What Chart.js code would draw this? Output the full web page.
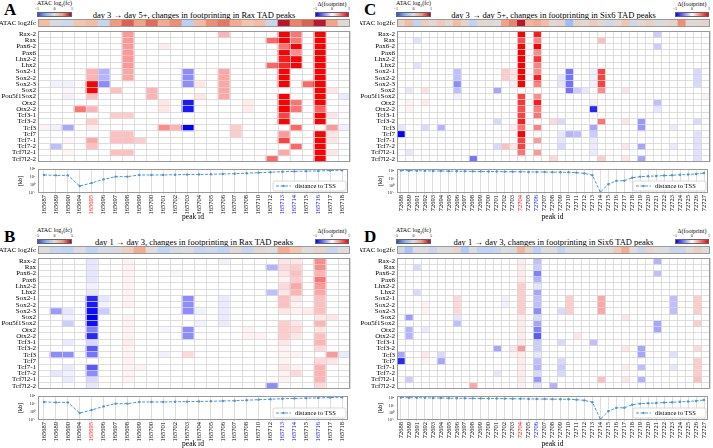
<!DOCTYPE html>
<html>
<head>
<meta charset="utf-8">
<script src="https://cdn.jsdelivr.net/npm/chart.js@4"></script>
<style>
  body { margin: 0; background: #fff; width: 713px; height: 448px; overflow: hidden; position: relative; font-family: 'Liberation Serif', serif; }
  canvas { position: absolute; }
  .txt { position: absolute; white-space: nowrap; line-height: 1; color: #000; }
  .cbar { position: absolute; border: 0.5px solid #666; box-sizing: border-box; }
</style>
</head>
<body>
<script>
//// Data

// rows of every heatmap (motifs)
const rowNames = ['Rax-2', 'Rax', 'Pax6-2', 'Pax6', 'Lhx2-2', 'Lhx2', 'Sox2-1', 'Sox2-2', 'Sox2-3', 'Sox2',
    'Pou5f1Sox2', 'Otx2', 'Otx2-2', 'Tcf3-1', 'Tcf3-2', 'Tcf3', 'Tcf7', 'Tcf7-1', 'Tcf7-2', 'Tcf7l2-1', 'Tcf7l2-2'];

// peak ids
const raxPeaks = ['165687', '165689', '165690', '165694', '165695', '165696', '165697', '165698', '165699', '165700',
    '165701', '165702', '165703', '165704', '165705', '165706', '165707', '165708', '165710', '165712',
    '165713', '165714', '165715', '165716', '165717', '165718'];
const six6Peaks = ['72688', '72689', '72691', '72692', '72693', '72694', '72695', '72696', '72697', '72698',
    '72699', '72700', '72701', '72702', '72703', '72704', '72705', '72706', '72707', '72708',
    '72709', '72710', '72711', '72712', '72713', '72714', '72715', '72716', '72717', '72718',
    '72719', '72720', '72721', '72722', '72723', '72724', '72725', '72726', '72727'];
const raxRed = ['165695'];
const raxBlue = ['165713', '165714', '165716'];
const six6Red = ['72704'];
const six6Blue = ['72706'];

// distance to TSS [kb]
const raxDistance = [18, 16, 16, 0.74, 1.8, 5, 11, 11, 18, 18, 18, 19, 20, 21, 22, 24, 26, 30, 35, 40, 46, 50, 54, 58, 63, 71];
const six6Distance = [120, 117, 115, 112, 107, 105, 102, 100, 98, 95, 93, 91, 89, 87, 85, 83, 79, 78, 76, 74,
    72, 71, 63, 50, 28, 0.13, 1.6, 4.7, 4.8, 12.6, 18, 20, 22, 25, 28, 32, 35, 42, 56];

// ATAC log2fc strips (scaled to the colour bar)
const atacA = [0.3, -0.05, -0.1, 0.25, 0.3, -0.15, 0.5, 0.75, 0.45, 0.7, 0.4, 0.55, -0.25, 0.3, 0.55, 0.65, 0.4, 0.25, 0.3, -0.15, 0.95, 0.6, 0.75, 0.95, 0.45, 0.05];
const atacB = [0, -0.15, -0.2, 0, -0.2, -0.05, -0.05, 0.15, 0.4, 0, -0.2, -0.05, 0, -0.15, -0.1, -0.2, 0.05, -0.15, 0.05, 0, 0.4, 0.25, 0, 0.1, -0.15, 0];
const atacC = [0.1, 0.3, -0.2, 0.15, 0.05, 0.2, 0.05, 0.3, 0.1, -0.2, 0.05, 0.05, 0, 0.45, 0.6, 0.95, 0.35, 0.4, 0.3, 0.05,
    0.1, -0.4, 0.1, 0.05, 0.2, 0.05, -0.1, 0.05, 0.25, -0.1, 0.05, 0.15, -0.05, 0.05, 0.1, 0.55, 0.05, 0.05, 0.1];
const atacD = [-0.1, -0.35, 0, 0, -0.15, 0, 0, 0.1, -0.3, 0, -0.2, -0.2, -0.15, 0, -0.05, 0.35, 0.1, -0.25, 0, 0,
    -0.2, 0, 0, 0, 0, 0, 0, 0.2, 0.4, 0, -0.15, 0.1, 0, 0, -0.15, -0.15, 0, 0.15, 0];
const atacTicksLate = ['\u22121', '0', '1'];
const atacTicksEarly = ['\u22125', '0', '5'];
const footTicks = ['\u22121', '0', '1'];

// Δ(footprint) cells that are not zero: [row, column, value]
const cellsA = [
    [0,7,0.4],[0,15,0.3],[0,20,1],[0,21,0.55],[0,23,1],
    [1,7,0.4],[1,19,0.6],[1,20,1],[1,21,0.55],[1,23,1],
    [2,7,0.4],[2,10,0.08],[2,20,0.55],[2,21,1],[2,23,1],
    [3,7,0.4],[3,20,1],[3,21,0.45],[3,23,1],
    [4,7,0.4],[4,20,0.9],[4,21,1],[4,23,1],
    [5,7,0.4],[5,19,0.6],[5,20,0.85],[5,21,1],[5,23,1],
    [6,4,0.3],[6,5,-0.3],[6,7,0.35],[6,12,-0.45],[6,15,0.35],[6,20,1],[6,23,1],
    [7,4,0.3],[7,5,-0.3],[7,7,0.35],[7,12,-0.45],[7,15,0.35],[7,20,1],[7,23,1],
    [8,1,-0.06],[8,2,-0.06],[8,4,1],[8,5,-0.45],[8,12,-0.45],[8,13,0.1],[8,15,0.35],[8,20,1],[8,22,0.6],[8,23,1],
    [9,2,0.04],[9,4,1],[9,6,0.25],[9,9,0.3],[9,15,0.35],[9,23,1],[9,24,0.1],
    [10,2,-0.06],[10,4,0.25],[10,9,0.3],[10,13,0.1],[10,15,0.35],[10,20,1],[10,23,1],[10,25,-0.08],
    [11,10,0.1],[11,12,-0.9],[11,17,0.08],[11,20,1],[11,21,0.55],[11,23,1],
    [12,3,0.55],[12,4,0.3],[12,10,0.1],[12,12,-0.9],[12,17,0.08],[12,20,1],[12,21,0.55],[12,23,0.6],
    [13,6,0.2],[13,7,0.2],[13,20,0.75],[13,23,1],[13,24,0.1],
    [14,4,0.2],[14,20,1],[14,23,1],
    [15,0,0.05],[15,1,-0.06],[15,2,-0.35],[15,4,0.08],[15,10,0.45],[15,11,0.3],[15,12,-1],[15,16,0.2],[15,21,0.6],[15,24,0.4],[15,25,-0.06],
    [16,6,0.25],[16,7,0.25],[16,16,0.2],[16,20,0.4],[16,23,1],[16,24,0.1],
    [17,2,0.04],[17,4,0.35],[17,6,0.25],[17,7,0.25],[17,8,0.2],[17,20,0.75],[17,23,1],[17,24,0.1],
    [18,1,-0.25],[18,4,0.25],[18,21,0.6],[18,23,1],
    [19,2,0.04],[19,6,0.25],[19,7,0.25],[19,20,0.35],[19,23,1],[19,24,0.1],
    [20,19,0.6],[20,23,1]
];
const cellsB = [
    [0,4,-0.1],[0,7,0.05],[0,15,-0.05],[0,20,0.1],[0,21,0.1],[0,23,0.45],
    [1,4,-0.1],[1,7,0.05],[1,19,-0.3],[1,20,0.15],[1,21,0.2],[1,23,0.45],
    [2,4,-0.1],[2,7,0.05],[2,11,-0.03],[2,20,0.1],[2,21,0.25],[2,23,0.3],
    [3,4,-0.1],[3,7,0.05],[3,20,0.05],[3,21,0.2],[3,23,0.55],
    [4,4,-0.05],[4,7,0.05],[4,20,0.15],[4,21,0.35],[4,23,0.4],
    [5,4,-0.1],[5,7,0.05],[5,19,-0.25],[5,20,0.1],[5,21,0.3],[5,23,0.35],
    [6,4,-0.85],[6,5,-0.1],[6,7,0.05],[6,12,-0.45],[6,15,-0.08],[6,20,0.25],[6,21,0.1],[6,23,0.25],
    [7,4,-0.9],[7,5,-0.05],[7,7,0.05],[7,12,-0.45],[7,15,-0.08],[7,20,0.25],[7,21,0.05],[7,23,0.25],
    [8,1,-0.4],[8,2,-0.1],[8,4,-0.95],[8,5,-0.2],[8,12,-0.45],[8,13,-0.05],[8,15,-0.08],[8,20,0.1],[8,21,0.05],[8,22,0.08],[8,23,0.25],
    [9,2,-0.05],[9,4,-1],[9,7,0.05],[9,15,-0.08],[9,23,0.1],[9,24,0.1],
    [10,2,-0.2],[10,4,-0.95],[10,7,0.05],[10,13,-0.05],[10,15,-0.08],[10,20,0.2],[10,21,0.1],[10,23,0.3],
    [11,4,-0.5],[11,7,0.05],[11,10,-0.03],[11,12,-0.45],[11,17,0.05],[11,20,0.2],[11,21,0.15],[11,23,0.1],
    [12,4,-0.85],[12,7,0.05],[12,12,-0.45],[12,17,0.05],[12,18,0.05],[12,20,0.2],[12,21,0.1],[12,23,0.25],
    [13,2,-0.08],[13,4,-0.15],[13,7,0.08],[13,20,0.1],[13,23,0.3],
    [14,4,-0.65],[14,7,0.05],[14,20,0.05],[14,23,0.15],
    [15,1,-0.45],[15,2,-0.45],[15,4,-0.55],[15,7,0.05],[15,10,-0.05],[15,12,0.15],[15,20,0.05],[15,21,0.05],[15,24,0.4],[15,25,-0.08],
    [16,7,0.05],[16,20,0.05],[16,23,0.15],[16,24,0.1],
    [17,2,-0.08],[17,4,-0.65],[17,7,0.05],[17,8,0.05],[17,20,0.1],[17,21,0.05],[17,23,0.3],
    [18,1,-0.1],[18,2,-0.05],[18,4,-0.45],[18,7,0.05],[18,20,0.05],[18,21,0.15],[18,23,0.3],
    [19,2,-0.08],[19,4,-0.15],[19,7,0.05],[19,20,0.05],[19,23,0.3],
    [20,4,-0.1],[20,19,-0.45],[20,23,0.15]
];
const cellsC = [
    [0,15,1],[0,17,0.9],[0,32,-0.2],
    [1,2,-0.12],[1,15,0.7],[1,17,0.5],[1,25,0.25],
    [2,15,1],[2,17,1],[2,32,-0.2],
    [3,15,1],[3,17,0.45],
    [4,15,1],[4,17,0.8],
    [5,2,-0.12],[5,15,1],[5,17,0.5],
    [6,7,-0.25],[6,13,0.2],[6,14,0.1],[6,15,1],[6,17,0.45],[6,21,-0.55],[6,24,-0.05],[6,25,0.75],[6,37,-0.15],
    [7,7,-0.25],[7,13,0.2],[7,14,0.1],[7,15,1],[7,17,0.9],[7,20,-0.1],[7,21,-0.55],[7,24,-0.05],[7,25,0.75],[7,37,-0.15],
    [8,7,-0.45],[8,14,0.08],[8,15,1],[8,17,0.5],[8,20,-0.1],[8,21,-0.55],[8,24,-0.05],[8,25,0.75],[8,37,-0.15],
    [9,1,-0.1],[9,3,0.12],[9,7,-0.25],[9,12,-0.35],[9,21,-0.55],[9,22,-0.2],[9,23,-0.1],[9,25,0.45],[9,28,0.1],
    [10,7,-0.05],[10,15,0.75],[10,17,0.45],[10,38,0.05],
    [11,1,0.05],[11,3,0.08],[11,15,0.8],[11,17,0.9],[11,24,-0.05],[11,32,-0.25],
    [12,1,0.05],[12,15,0.7],[12,17,0.5],[12,24,-0.85],[12,32,-0.1],
    [13,15,0.75],[13,17,0.55],
    [14,12,-0.15],[14,15,0.9],[14,19,0.15],[14,20,-0.15],[14,25,0.55],[14,28,0.1],[14,30,-0.4],[14,37,-0.15],
    [15,0,-0.1],[15,3,-0.15],[15,5,-0.3],[15,14,0.08],[15,15,0.55],[15,17,0.5],[15,24,-0.35],[15,30,-0.4],[15,34,-0.08],
    [16,0,-1],[16,15,1],[16,20,-0.1],[16,21,-0.3],[16,22,-0.25],[16,24,-0.2],[16,37,-0.12],
    [17,15,0.75],[17,17,0.4],[17,20,-0.1],[17,24,-0.08],[17,37,-0.12],
    [18,12,-0.15],[18,13,0.25],[18,14,0.1],[18,15,0.75],[18,20,-0.15],[18,24,-0.08],[18,28,0.1],[18,30,-0.35],[18,34,-0.08],[18,37,-0.12],
    [19,1,-0.1],[19,15,0.55],[19,17,0.4],[19,24,-0.08],[19,37,-0.12],
    [20,9,-0.55],[20,19,0.15],[20,25,0.2],[20,28,0.1],[20,30,-0.35],[20,37,-0.12]
];
const cellsD = [
    [0,15,0.08],[0,17,-0.25],[0,32,-0.3],
    [1,2,-0.15],[1,15,0.08],[1,17,-0.2],
    [2,15,0.08],[2,17,-0.5],[2,32,-0.25],
    [3,15,0.08],[3,17,-0.3],
    [4,15,0.2],[4,17,-0.1],
    [5,2,-0.15],[5,15,0.2],[5,17,-0.35],
    [6,7,0.15],[6,13,-0.05],[6,15,0.2],[6,17,-0.25],[6,21,0.2],[6,25,0.35],[6,34,-0.25],[6,37,0.2],
    [7,3,0.05],[7,7,0.15],[7,13,-0.05],[7,15,0.2],[7,17,-0.25],[7,21,0.2],[7,25,0.35],[7,34,-0.25],[7,37,0.2],
    [8,3,0.05],[8,7,0.15],[8,15,0.2],[8,17,-0.45],[8,20,-0.15],[8,21,0.2],[8,25,0.35],[8,34,-0.25],[8,37,0.2],
    [9,1,-0.4],[9,7,-0.1],[9,15,0.08],[9,17,-0.15],[9,28,0.1],
    [10,7,-0.25],[10,15,0.08],[10,17,-0.35],[10,32,-0.35],[10,37,0.2],
    [11,1,-0.3],[11,3,-0.08],[11,15,0.08],[11,17,-0.5],[11,32,-0.35],
    [12,1,-0.3],[12,15,0.08],[12,17,-0.65],[12,22,0.1],
    [13,15,0.08],[13,17,-0.2],[13,20,-0.15],[13,24,-0.25],
    [14,12,-0.35],[14,14,0.1],[14,15,0.4],[14,17,-0.2],[14,28,0.1],[14,30,-0.35],[14,37,0.15],
    [15,0,-0.35],[15,3,0.1],[15,5,-0.15],[15,14,0.05],[15,15,0.08],[15,17,-0.1],[15,30,-0.35],[15,34,-0.12],
    [16,0,-0.85],[16,3,0.05],[16,5,-0.35],[16,15,0.08],[16,17,-0.25],[16,20,-0.15],[16,37,0.2],
    [17,15,0.08],[17,17,-0.3],[17,20,-0.2],[17,28,0.08],[17,30,-0.25],[17,34,-0.1],[17,37,0.2],
    [18,12,-0.1],[18,15,0.08],[18,17,-0.15],[18,20,-0.15],[18,37,0.2],
    [19,1,-0.2],[19,15,0.08],[19,17,-0.4],[19,25,0.25],[19,28,0.1],[19,30,-0.3],[19,37,0.25],
    [20,9,0.35],[20,15,0.05],[20,17,-0.1],[20,19,-0.3]
];

//// Styles
const FONT = "'Liberation Serif', serif";
const GRID = '#d6d6d6';
const FRAME = '#9a9a9a';
const LINE = '#4f95d0';
Chart.defaults.font.family = FONT;
Chart.defaults.color = '#000';

// colour maps
const coolAnchors = [[59,76,192],[98,130,234],[141,176,254],[184,208,249],[221,221,221],[245,196,173],[244,154,123],[222,96,77],[180,4,38]];
const coolwarm = (v) => {
    const t = (Math.max(-1, Math.min(1, v)) + 1) / 2 * (coolAnchors.length - 1);
    const i = Math.min(Math.floor(t), coolAnchors.length - 2), f = t - i;
    const c = coolAnchors[i].map((a, k) => Math.round(a + (coolAnchors[i + 1][k] - a) * f));
    return `rgb(${c[0]},${c[1]},${c[2]})`;
};
const bwr = (v) => {
    const k = Math.round(255 * (1 - Math.min(1, Math.abs(v))));
    return v < 0 ? `rgb(${k},${k},255)` : `rgb(255,${k},${k})`;
};

//// Panels
const panels = [
    { letter: 'A', ox: 0, oy: 0, L: 38, R: 350, title: 'day 3 \u2192 day 5+, changes in footprinting in Rax TAD peaks',
      peaks: raxPeaks, cells: cellsA, atac: atacA, dist: raxDistance, red: raxRed, blue: raxBlue, atacTicks: atacTicksLate, distMax: 100 },
    { letter: 'B', ox: 0, oy: 227, L: 38, R: 350, title: 'day 1 \u2192 day 3, changes in footprinting in Rax TAD peaks',
      peaks: raxPeaks, cells: cellsB, atac: atacB, dist: raxDistance, red: raxRed, blue: raxBlue, atacTicks: atacTicksEarly, distMax: 100 },
    { letter: 'C', ox: 360, oy: 0, L: 397, R: 710, title: 'day 3 \u2192 day 5+, changes in footprinting in Six6 TAD peaks',
      peaks: six6Peaks, cells: cellsC, atac: atacC, dist: six6Distance, red: six6Red, blue: six6Blue, atacTicks: atacTicksLate, distMax: 200 },
    { letter: 'D', ox: 360, oy: 227, L: 397, R: 710, title: 'day 1 \u2192 day 3, changes in footprinting in Six6 TAD peaks',
      peaks: six6Peaks, cells: cellsD, atac: atacD, dist: six6Distance, red: six6Red, blue: six6Blue, atacTicks: atacTicksEarly, distMax: 200 }
];

//// Helpers
const makeCanvas = (x, y, w, h) => {
    const c = document.createElement('canvas');
    c.width = w; c.height = h;
    c.style.left = x + 'px'; c.style.top = y + 'px';
    c.style.width = w + 'px'; c.style.height = h + 'px';
    document.body.appendChild(c);
    return c;
};

const addText = (html, x, y, size, opts = {}) => {
    const d = document.createElement('div');
    d.className = 'txt';
    d.innerHTML = html;
    d.style.left = x + 'px';
    d.style.top = y + 'px';
    d.style.fontSize = size + 'px';
    if (opts.bold) d.style.fontWeight = 'bold';
    const tx = opts.align === 'center' ? '-50%' : opts.align === 'right' ? '-100%' : '0';
    d.style.transform = `translate(${tx}, -50%)`;
    document.body.appendChild(d);
    return d;
};

const colorBar = (x, y, w, gradient, label, ticks) => {
    addText(label, x + w / 2, y - 8.5, 6, { align: 'center' });
    ticks.forEach((t, i) => addText(t, x + i * w / 2, y - 3, 4, { align: 'center' }));
    const b = document.createElement('div');
    b.className = 'cbar';
    b.style.left = x + 'px'; b.style.top = y + 'px';
    b.style.width = w + 'px'; b.style.height = '5px';
    b.style.background = gradient;
    document.body.appendChild(b);
};

const framePlugin = {
    id: 'frame',
    afterDraw(chart) {
        const { ctx, chartArea: a } = chart;
        ctx.save();
        ctx.strokeStyle = FRAME;
        ctx.lineWidth = 1;
        ctx.strokeRect(Math.round(a.left) + 0.5, Math.round(a.top) + 0.5, Math.round(a.right - a.left) - 1, Math.round(a.bottom - a.top) - 1);
        ctx.restore();
    }
};

const tssLegend = {
    id: 'tssLegend',
    afterDraw(chart) {
        const { ctx, chartArea: a } = chart;
        const w = 73, h = 10;
        const x = a.right - w - 2, y = a.bottom - h - 2;
        ctx.save();
        ctx.fillStyle = 'rgba(255,255,255,0.9)';
        ctx.strokeStyle = '#cfcfcf';
        ctx.lineWidth = 0.8;
        ctx.beginPath();
        ctx.roundRect(x, y, w, h, 2);
        ctx.fill();
        ctx.stroke();
        ctx.strokeStyle = LINE;
        ctx.lineWidth = 1;
        ctx.setLineDash([3, 1.5]);
        ctx.beginPath();
        ctx.moveTo(x + 3, y + h / 2);
        ctx.lineTo(x + 18, y + h / 2);
        ctx.stroke();
        ctx.fillStyle = LINE;
        ctx.beginPath();
        ctx.arc(x + 10.5, y + h / 2, 1.2, 0, Math.PI * 2);
        ctx.fill();
        ctx.fillStyle = '#000';
        ctx.font = `6.5px ${FONT}`;
        ctx.textBaseline = 'middle';
        ctx.fillText(chart.data.datasets[0].label, x + 22, y + h / 2 + 0.5);
        ctx.restore();
    }
};

const baseOptions = () => ({
    responsive: false,
    animation: false,
    events: [],
    layout: { padding: { top: 2, bottom: 2, left: 0, right: 2 } },
    plugins: { legend: { display: false }, tooltip: { enabled: false } }
});

const hiddenX = (gridOn) => ({
    stacked: true,
    offset: true,
    grid: { display: gridOn, offset: true, color: GRID, lineWidth: 0.8, drawTicks: false, z: 1 },
    border: { display: false },
    ticks: { display: false },
    afterFit: (s) => { s.height = 0; s.paddingLeft = 0; s.paddingRight = 0; }
});

// ATAC log2fc strip
const drawStrip = (p) => {
    const top = p.oy + 19, bottom = p.oy + 27;
    const cv = makeCanvas(p.ox, top - 2, p.R - p.ox + 2, bottom - top + 4);
    new Chart(cv, {
        type: 'bar',
        data: {
            labels: p.peaks,
            datasets: [{ data: p.peaks.map(() => 1), backgroundColor: p.atac.map(coolwarm), barPercentage: 1, categoryPercentage: 1, borderWidth: 0 }]
        },
        options: {
            ...baseOptions(),
            scales: {
                x: hiddenX(false),
                y: {
                    stacked: true, min: 0, max: 1,
                    grid: { display: false, drawTicks: false }, border: { display: false },
                    afterBuildTicks: (s) => { s.ticks = [{ value: 0.5 }]; },
                    ticks: { callback: () => 'ATAC log2fc', font: { size: 7 }, padding: 2 },
                    afterFit: (s) => { s.width = p.L - p.ox; s.paddingTop = 0; s.paddingBottom = 0; }
                }
            }
        },
        plugins: [framePlugin]
    });
};

// Δ(footprint) heatmap
const drawHeatmap = (p) => {
    const top = p.oy + 31, bottom = p.oy + 162;
    const grid = rowNames.map(() => p.peaks.map(() => 0));
    p.cells.forEach(([r, c, v]) => { grid[r][c] = v; });
    const cv = makeCanvas(p.ox, top - 2, p.R - p.ox + 2, bottom - top + 4);
    new Chart(cv, {
        type: 'bar',
        data: {
            labels: p.peaks,
            datasets: rowNames.map((name, r) => ({
                label: name,
                data: p.peaks.map(() => 1),
                backgroundColor: grid[r].map(bwr),
                barPercentage: 1, categoryPercentage: 1, borderWidth: 0
            }))
        },
        options: {
            ...baseOptions(),
            scales: {
                x: hiddenX(true),
                y: {
                    stacked: true, reverse: true, min: 0, max: rowNames.length,
                    grid: { display: false, drawTicks: false }, border: { display: false },
                    afterBuildTicks: (s) => { s.ticks = rowNames.map((_, i) => ({ value: i + 0.5 })); },
                    ticks: { autoSkip: false, callback: (v) => rowNames[Math.floor(v)], font: { size: 7 }, padding: 2 },
                    afterFit: (s) => { s.width = p.L - p.ox; s.paddingTop = 0; s.paddingBottom = 0; }
                },
                yg: {
                    position: 'right', reverse: true, min: 0, max: rowNames.length,
                    grid: { color: GRID, lineWidth: 0.8, drawTicks: false, z: 1 }, border: { display: false },
                    afterBuildTicks: (s) => { s.ticks = rowNames.map((_, i) => ({ value: i })); },
                    ticks: { display: false },
                    afterFit: (s) => { s.width = 0; s.paddingTop = 0; s.paddingBottom = 0; }
                }
            }
        },
        plugins: [framePlugin]
    });
};

// distance to TSS
const supers = { '-1': '\u207b\u00b9', '0': '\u2070', '1': '\u00b9', '2': '\u00b2' };
const drawDistance = (p) => {
    const top = p.oy + 167, bottom = p.oy + 193, xH = 29;
    const cv = makeCanvas(p.ox, top - 2, p.R - p.ox + 2, bottom - top + 2 + xH + 1);
    const opts = baseOptions();
    opts.layout.padding.bottom = 1;
    new Chart(cv, {
        type: 'line',
        data: {
            labels: p.peaks,
            datasets: [{
                label: 'distance to TSS', data: p.dist,
                borderColor: LINE, borderWidth: 1, borderDash: [3, 1.5],
                pointRadius: 1.2, pointBackgroundColor: LINE, pointBorderWidth: 0, tension: 0
            }]
        },
        options: {
            ...opts,
            scales: {
                x: {
                    offset: true,
                    grid: { offset: false, color: GRID, lineWidth: 0.8, drawTicks: true, tickLength: 1.5 },
                    border: { display: false },
                    ticks: {
                        autoSkip: false, minRotation: 90, maxRotation: 90, padding: 0.5, font: { size: 6.5 },
                        color: (ctx) => p.red.includes(p.peaks[ctx.index]) ? '#ff0000' : p.blue.includes(p.peaks[ctx.index]) ? '#0000ff' : '#000'
                    },
                    title: { display: true, text: 'peak id', font: { size: 7.5 }, padding: { top: 0, bottom: 0 } },
                    afterFit: (s) => { s.height = xH; s.paddingLeft = 0; s.paddingRight = 0; }
                },
                y: {
                    type: 'logarithmic', min: 0.1, max: p.distMax,
                    grid: { display: false, drawTicks: true, tickLength: 2 }, border: { display: false },
                    afterBuildTicks: (s) => { s.ticks = [0.1, 1, 10, 100].map((v) => ({ value: v })); },
                    ticks: { font: { size: 4 }, padding: 1, callback: (v) => '10' + supers[String(Math.round(Math.log10(v)))] },
                    title: { display: true, text: '[kb]', font: { size: 6 }, padding: { top: 17, bottom: 0 } },
                    afterFit: (s) => { s.width = p.L - p.ox; s.paddingTop = 0; s.paddingBottom = 0; }
                }
            }
        },
        plugins: [framePlugin, tssLegend]
    });
};

const drawPanel = (p) => {
    addText(p.letter, p.ox + 4, p.oy + 9, 17, { bold: true });
    colorBar(p.L - 1, p.oy + 12, 35,
        'linear-gradient(to right, rgb(59,76,192), rgb(141,176,254) 25%, rgb(221,221,221) 50%, rgb(244,154,123) 75%, rgb(180,4,38))',
        'ATAC log<sub style="font-size:4px">2</sub>(fc)', p.atacTicks);
    colorBar(p.R - 35, p.oy + 12, 34, 'linear-gradient(to right, #0000ff, #ffffff, #ff0000)', '\u0394(footprint)', footTicks);
    addText(p.title, (p.L + p.R) / 2, p.oy + 14.5, 8.5, { align: 'center' });
    drawStrip(p);
    drawHeatmap(p);
    drawDistance(p);
};

//// Executions state
window.onload = () => {
    panels.forEach(drawPanel);
};
</script>
</body>
</html>
